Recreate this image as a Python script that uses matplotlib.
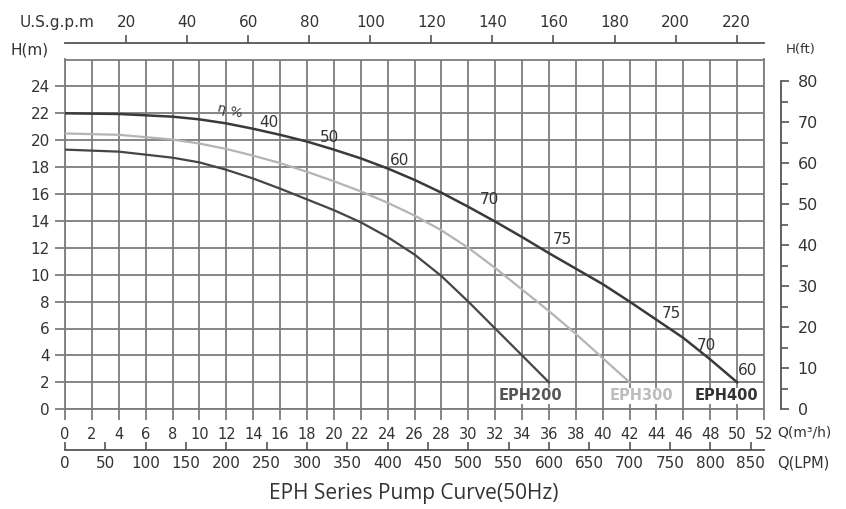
import numpy as np
import matplotlib
matplotlib.use("Agg")
import matplotlib.pyplot as plt
from matplotlib.ticker import MultipleLocator, FixedLocator

# curve data: flow Q (m3/h) vs head H (m)
q_400 = [0, 4, 8, 10, 12, 14, 16, 18, 20, 22, 24, 26, 28, 30, 32, 34, 36, 38, 40, 42, 44, 46, 48, 50]
h_400 = [22.0, 21.95, 21.75, 21.55, 21.25, 20.85, 20.4, 19.9, 19.3, 18.65, 17.9, 17.05, 16.1,
         15.05, 13.95, 12.8, 11.6, 10.45, 9.3, 8.0, 6.65, 5.3, 3.7, 2.0]

q_300 = [0, 4, 8, 10, 12, 14, 16, 18, 20, 22, 24, 26, 28, 30, 32, 34, 36, 38, 40, 42]
h_300 = [20.5, 20.4, 20.05, 19.75, 19.35, 18.85, 18.3, 17.65, 16.95, 16.2, 15.35, 14.4, 13.3,
         12.0, 10.5, 8.9, 7.3, 5.6, 3.8, 2.0]

q_200 = [0, 4, 8, 10, 12, 14, 16, 18, 20, 22, 24, 26, 28, 30, 32, 34, 36]
h_200 = [19.3, 19.15, 18.7, 18.35, 17.8, 17.15, 16.4, 15.6, 14.8, 13.9, 12.8, 11.5, 9.9,
         8.0, 6.0, 4.0, 2.0]

# efficiency labels on the EPH400 curve
eff_text = ["40", "50", "60", "70", "75", "75", "70", "60"]
eff_q = [15.2, 19.7, 24.9, 31.6, 37.0, 45.1, 47.7, 50.8]
eff_h = [21.3, 20.2, 18.5, 15.6, 12.6, 7.1, 4.75, 2.9]

model_names = ["EPH200", "EPH300", "EPH400"]
model_q = [34.6, 42.9, 49.2]

gpm_ticks = list(range(20, 221, 20))
lpm_ticks = list(range(0, 851, 50))

GRID = "#7d7d7d"
TXT = "#333333"

fig = plt.figure(figsize=(8.46, 5.09), dpi=100)
ax = fig.add_axes([65 / 846, 1 - 409.2 / 509, 699 / 846, 349.7 / 509])
ax.set_xlim(0, 52)
ax.set_ylim(0, 26)

ax.xaxis.set_major_locator(MultipleLocator(2))
ax.yaxis.set_major_locator(FixedLocator(range(0, 25, 2)))
ax.grid(True, color=GRID, linewidth=1.3)
for s in ax.spines.values():
    s.set_color(GRID)
    s.set_linewidth(1.3)
ax.tick_params(axis="x", direction="out", length=8, width=1.3, color=GRID,
               labelsize=10.5, labelcolor=TXT, pad=5)
ax.tick_params(axis="y", direction="out", length=7, width=1.3, color=GRID,
               labelsize=11, labelcolor=TXT, pad=4)

ax.plot(q_200, h_200, color="#454545", lw=1.6, zorder=3)
ax.plot(q_300, h_300, color="#b4b4b4", lw=1.6, zorder=3)
ax.plot(q_400, h_400, color="#3a3a3a", lw=1.8, zorder=3)

for t, x, y in zip(eff_text, eff_q, eff_h):
    ax.text(x, y, t, fontsize=11, color=TXT, ha="center", va="center", zorder=4)
ax.text(12.3, 22.15, "η %", fontsize=9.5, color=TXT, ha="center", va="center",
        rotation=-15, zorder=4)

model_colors = ["#555555", "#bdbdbd", "#333333"]
for name, x, c in zip(model_names, model_q, model_colors):
    ax.text(x, 1.0, name, fontsize=10.5, fontweight="bold", color=c,
            ha="center", va="center", zorder=4,
            bbox=dict(facecolor="white", edgecolor="none", pad=0.5))

# top axis: US gpm
top = ax.secondary_xaxis(1 + 16.5 / 349.7,
                         functions=(lambda q: q * 4.4029, lambda g: g / 4.4029))
top.set_xticks(gpm_ticks)
top.spines["top"].set_color("#555555")
top.spines["top"].set_linewidth(1.3)
top.tick_params(direction="out", length=6, width=1.2, color="#555555",
                labelsize=11, labelcolor=TXT, pad=3)

# bottom axis: LPM
bot = ax.secondary_xaxis(-41 / 349.7,
                         functions=(lambda q: q * 1000 / 60, lambda l: l * 60 / 1000))
bot.set_xticks(lpm_ticks)
bot.spines["bottom"].set_color("#555555")
bot.spines["bottom"].set_linewidth(1.3)
bot.tick_params(direction="in", length=6, width=1.2, color="#555555",
                labelsize=11, labelcolor=TXT, pad=4)

# right axis: H in feet
rgt = ax.secondary_yaxis(1 + 17 / 699,
                         functions=(lambda m: m * 3.28084, lambda f: f / 3.28084))
rgt.set_yticks(range(0, 81, 10))
rgt.yaxis.set_minor_locator(FixedLocator(range(5, 80, 10)))
rgt.spines["right"].set_bounds(0, 80)
rgt.spines["right"].set_color("#555555")
rgt.spines["right"].set_linewidth(1.3)
rgt.tick_params(which="major", direction="out", length=6, width=1.2, color="#555555",
                labelsize=11.5, labelcolor=TXT, pad=6)
rgt.tick_params(which="minor", direction="out", length=5, width=1.2, color="#555555")

fig.text(10 / 846, 1 - 50 / 509, "H(m)", fontsize=11, color=TXT, va="center")
fig.text(20 / 846, 1 - 22 / 509, "U.S.g.p.m", fontsize=11, color=TXT, va="center")
fig.text(786 / 846, 1 - 50 / 509, "H(ft)", fontsize=9.5, color=TXT, va="center")
fig.text(777 / 846, 1 - 432 / 509, "Q(m³/h)", fontsize=10, color=TXT, va="center")
fig.text(777 / 846, 1 - 463 / 509, "Q(LPM)", fontsize=10.5, color=TXT, va="center")
fig.text(414 / 846, 1 - 493 / 509, "EPH Series Pump Curve(50Hz)", fontsize=15,
         color=TXT, ha="center", va="center", family="Open Sans")

fig.savefig("out.png", dpi=100)
